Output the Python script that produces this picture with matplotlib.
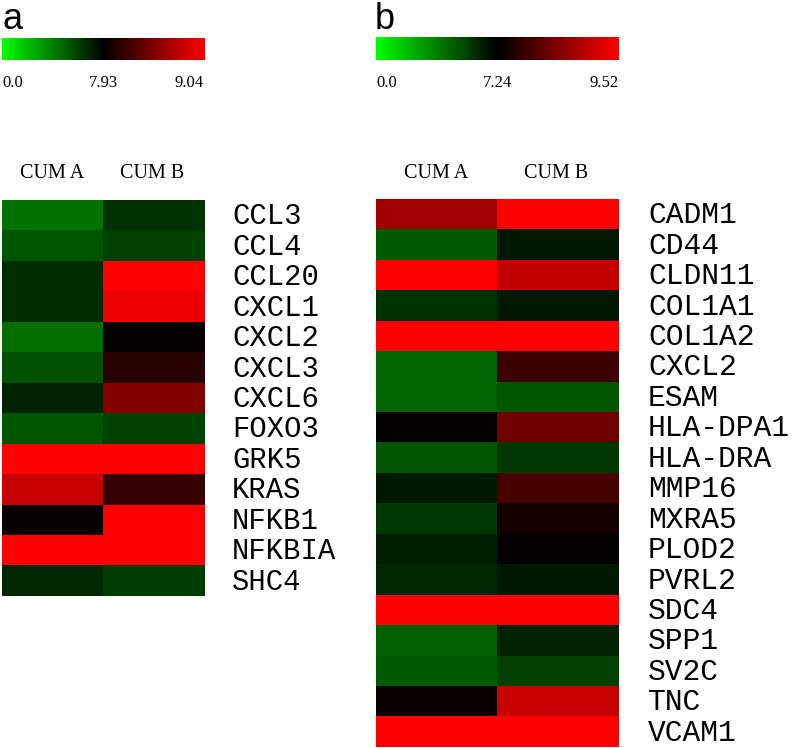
import numpy as np
import matplotlib
matplotlib.use("Agg")
import matplotlib.pyplot as plt
from matplotlib.colors import LinearSegmentedColormap, TwoSlopeNorm

# dati (livelli di espressione)
cols = ["CUM A", "CUM B"]

genes_a = ["CCL3", "CCL4", "CCL20", "CXCL1", "CXCL2", "CXCL3", "CXCL6",
           "FOXO3", "GRK5", "KRAS", "NFKB1", "NFKBIA", "SHC4"]
cum_a_a = [4.35, 5.29, 6.53, 6.53, 4.51, 5.44, 6.84, 5.29, 9.04, 8.80, 7.97, 9.04, 6.69]
cum_b_a = [6.38, 5.91, 9.04, 8.95, 7.95, 8.10, 8.50, 5.91, 9.04, 8.17, 9.04, 9.04, 6.07]
scale_a = [0.0, 7.93, 9.04]

genes_b = ["CADM1", "CD44", "CLDN11", "COL1A1", "COL1A2", "CXCL2", "ESAM",
           "HLA-DPA1", "HLA-DRA", "MMP16", "MXRA5", "PLOD2", "PVRL2", "SDC4",
           "SPP1", "SV2C", "TNC", "VCAM1"]
cum_a_b = [8.67, 4.68, 9.52, 5.82, 9.52, 4.40, 4.40, 7.27, 4.83, 6.53, 5.68,
           6.39, 6.10, 9.52, 4.54, 4.68, 7.33, 9.52]
cum_b_b = [9.52, 6.53, 8.98, 6.53, 9.52, 7.78, 4.83, 8.22, 5.68, 7.87, 7.42,
           7.27, 6.53, 9.52, 6.25, 5.39, 9.03, 9.52]
scale_b = [0.0, 7.24, 9.52]

cmap = LinearSegmentedColormap.from_list("gkr", [(0, 1, 0), (0, 0, 0), (1, 0, 0)])

W, H = 793, 748
fig = plt.figure(figsize=(W / 100, H / 100), dpi=100)


def ax_px(x0, y0, x1, y1):
    # assi in coordinate pixel (origine in alto a sinistra)
    return fig.add_axes([x0 / W, 1 - y1 / H, (x1 - x0) / W, (y1 - y0) / H])


def pannello(lettera, lx, genes, va, vb, scala, hm_box, cb_box, label_x, fs_lab, head_x):
    vmin, vc, vmax = scala
    norm = TwoSlopeNorm(vcenter=vc, vmin=vmin, vmax=vmax)

    fig.text(lx / W, 1 - 29 / H, lettera, fontsize=26, family="Liberation Sans",
             ha="left", va="baseline")

    # barra colori
    cax = ax_px(*cb_box)
    grad = np.linspace(0, 1, 256)[None, :]
    cax.imshow(grad, aspect="auto", cmap=cmap, extent=[0, 1, 0, 1])
    cax.set_axis_off()
    x0, x1 = cb_box[0], cb_box[2]
    ty = 1 - 83 / H
    fig.text(x0 / W, ty, f"{vmin:.1f}", fontsize=12, family="Liberation Serif",
             ha="left", va="center")
    fig.text((x0 + x1) / 2 / W, ty, f"{vc:.2f}", fontsize=12, family="Liberation Serif",
             ha="center", va="center")
    fig.text(x1 / W, ty, f"{vmax:.2f}", fontsize=12, family="Liberation Serif",
             ha="right", va="center")

    # heatmap
    ax = ax_px(*hm_box)
    data = np.column_stack([va, vb])
    ax.imshow(data, aspect="auto", cmap=cmap, norm=norm, interpolation="nearest")
    ax.set_xticks([])
    ax.set_yticks([])
    for s in ax.spines.values():
        s.set_visible(False)

    n = len(genes)
    y0, y1 = hm_box[1], hm_box[3]
    rh = (y1 - y0) / n
    for i, g in enumerate(genes):
        fig.text(label_x / W, 1 - (y0 + rh * (i + 0.5) + 1) / H, g, fontsize=fs_lab,
                 family="Liberation Mono", ha="left", va="center")

    for c, hx in zip(cols, head_x):
        fig.text(hx / W, 1 - 174 / H, c, fontsize=14.5, family="Liberation Serif",
                 ha="center", va="center")


pannello("a", 2, genes_a, cum_a_a, cum_b_a, scale_a,
         (2, 200, 204, 596), (2, 38, 204, 60), 232, 20.8, (52, 152))
pannello("b", 375, genes_b, cum_a_b, cum_b_b, scale_b,
         (376, 199, 619, 747), (376, 37, 619, 60), 648, 21.3, (436, 556))

fig.savefig("out.png", dpi=100)
